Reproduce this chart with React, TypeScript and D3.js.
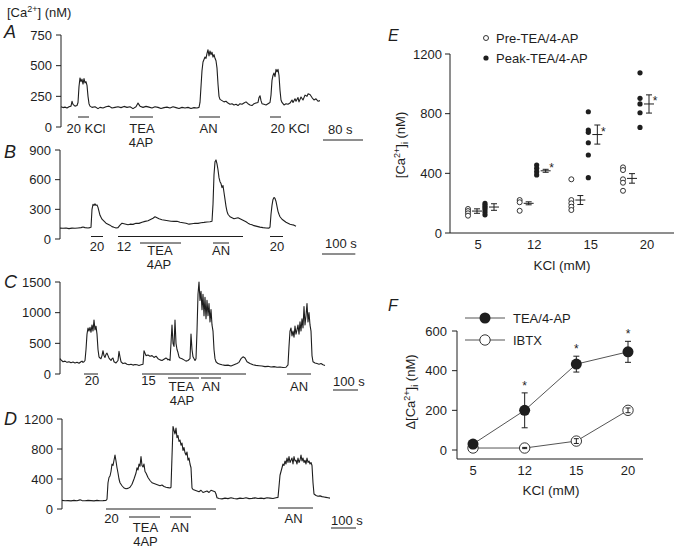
import React from 'react';
import * as d3 from 'd3';

const FONT = 'Liberation Sans, Arial, Helvetica, sans-serif';
const INK = '#1e1e1e';

// ---------- Panel A-D traces: [time (s), [Ca2+] (nM)] ----------
const traceA: [number, number][] = [
  [0,165],[4,158],[8,162],[12,155],[16,165],[20,170],[22,210],[24,185],[28,170],[32,175],[34,200],[36,330],[38,400],[40,370],[42,390],[44,350],[46,395],[48,360],[50,370],[52,340],[54,250],[56,190],[58,170],[62,160],[68,165],[74,150],[78,160],[84,155],[90,165],[96,170],[102,155],[108,160],[114,165],[120,158],[126,168],[132,160],[138,165],[144,150],[150,165],[154,195],[158,170],[164,160],[170,168],[176,162],[182,155],[188,165],[194,160],[200,150],[206,158],[212,162],[218,155],[224,165],[230,158],[236,150],[242,160],[248,155],[254,160],[260,150],[266,158],[272,155],[276,160],[278,200],[280,330],[282,460],[284,530],[286,550],[288,570],[290,560],[292,600],[294,630],[296,580],[298,620],[300,590],[302,610],[304,570],[306,590],[308,560],[310,540],[312,480],[314,350],[316,250],[318,225],[322,215],[326,205],[330,210],[334,195],[338,185],[342,190],[346,180],[350,185],[354,175],[358,190],[362,185],[366,195],[370,205],[374,190],[378,180],[382,175],[386,190],[390,195],[394,200],[396,240],[398,255],[400,215],[402,190],[406,185],[410,180],[414,190],[418,200],[420,260],[422,380],[424,420],[426,440],[428,410],[430,470],[432,450],[434,470],[436,420],[438,300],[440,220],[442,200],[446,180],[450,190],[454,185],[458,195],[462,220],[464,200],[468,230],[470,210],[474,240],[476,205],[480,245],[484,220],[488,260],[492,250],[494,270],[498,265],[502,240],[506,220],[510,230],[514,210],[518,215]
];
const ticksA = [0, 250, 500, 750];
const barsA: [number, number, number][] = [[34,56,0],[138,184,0],[276,318,0],[418,440,0]];
const labelsA: [string, number, number][] = [['20 KCl',50,0],['TEA',162,0],['4AP',160,1],['AN',295,0],['20 KCl',458,0]];

const traceB: [number, number][] = [
  [0,110],[9,108],[18,112],[27,105],[36,110],[45,108],[54,112],[63,115],[69,122],[75,115],[84,112],[90,115],[93,120],[96,300],[99,350],[102,340],[105,355],[108,340],[111,345],[114,320],[117,280],[120,240],[126,200],[132,180],[138,160],[144,150],[150,140],[156,125],[162,118],[168,112],[174,115],[180,140],[186,160],[192,155],[198,150],[204,145],[210,150],[219,148],[228,160],[237,158],[246,170],[255,178],[264,185],[273,200],[279,210],[285,225],[291,215],[297,205],[306,195],[315,190],[324,185],[333,180],[342,178],[351,180],[360,170],[369,165],[378,160],[387,150],[396,155],[405,160],[414,158],[423,165],[432,168],[441,172],[450,175],[456,180],[459,350],[462,650],[465,780],[468,800],[471,760],[474,700],[477,620],[480,580],[483,560],[486,520],[489,540],[492,470],[495,400],[498,330],[501,280],[504,250],[510,225],[516,215],[522,205],[528,210],[534,215],[540,205],[546,195],[552,185],[558,175],[564,160],[570,150],[576,145],[582,135],[588,130],[594,125],[600,120],[609,115],[618,112],[627,110],[630,120],[633,250],[636,340],[639,400],[642,420],[645,410],[648,380],[651,330],[654,280],[657,250],[660,225],[666,200],[672,185],[678,170],[684,160],[690,150],[696,145],[702,140],[708,130]
];
const ticksB = [0, 300, 600, 900];
const barsB: [number, number, number][] = [[93,129,0],[174,549,0],[240,363,1],[459,507,1],[630,669,0]];
const labelsB: [string, number, number][] = [['20',111,0],['12',192,0],['TEA',300,1],['4AP',297,2],['AN',483,1],['20',651,0]];

const traceC: [number, number][] = [
  [0,250],[4,230],[12,200],[20,210],[28,190],[36,200],[44,185],[52,195],[60,180],[68,190],[76,175],[84,200],[88,210],[92,190],[96,200],[100,220],[104,400],[108,650],[112,750],[116,700],[120,760],[124,680],[128,800],[132,700],[136,880],[140,720],[144,780],[148,650],[152,400],[156,280],[160,260],[164,250],[168,300],[172,380],[176,300],[180,270],[184,320],[188,340],[192,300],[196,260],[200,240],[204,220],[208,250],[212,260],[216,200],[224,180],[232,220],[236,370],[240,280],[244,200],[252,170],[260,180],[268,160],[276,150],[284,160],[292,145],[300,155],[308,150],[316,140],[324,150],[332,160],[336,380],[340,340],[344,300],[352,310],[360,290],[368,300],[376,270],[384,290],[392,250],[400,230],[408,220],[416,240],[424,260],[428,250],[432,230],[436,240],[440,220],[444,500],[448,800],[452,500],[456,450],[460,880],[464,500],[468,400],[472,350],[476,280],[480,260],[488,250],[496,230],[504,210],[512,220],[520,250],[524,650],[528,400],[532,280],[540,220],[544,250],[548,700],[552,1300],[556,1500],[560,1200],[564,1350],[568,1050],[572,1300],[576,950],[580,1250],[584,900],[588,1200],[592,950],[596,1150],[600,850],[604,1050],[608,800],[612,700],[616,400],[620,250],[624,200],[632,170],[640,160],[648,150],[660,140],[672,145],[684,130],[696,150],[708,170],[716,190],[724,250],[732,280],[740,260],[748,200],[760,170],[772,150],[784,140],[796,135],[808,130],[820,120],[832,125],[844,115],[856,120],[868,110],[880,115],[892,105],[904,110],[912,150],[916,450],[920,700],[924,750],[928,620],[932,700],[936,600],[940,780],[944,650],[948,720],[952,800],[956,650],[960,850],[964,700],[968,900],[972,750],[976,1100],[980,800],[984,950],[988,1150],[992,850],[996,1000],[1000,800],[1004,700],[1008,300],[1012,200],[1020,180],[1028,170],[1036,160],[1044,170],[1052,150],[1060,140]
];
const ticksC = [0, 500, 1000, 1500];
const barsC: [number, number, number][] = [[96,152,0],[328,744,0],[432,556,1],[564,644,1],[908,1004,0]];
const labelsC: [string, number, number][] = [['20',128,0],['15',354,0],['TEA',486,1],['4AP',488,2],['AN',604,1],['AN',956,1]];

const traceD: [number, number][] = [
  [0,115],[12,110],[24,112],[36,108],[48,115],[60,110],[72,122],[80,112],[92,110],[104,115],[116,112],[128,108],[140,115],[152,110],[164,112],[176,115],[180,130],[184,350],[188,420],[192,440],[196,500],[200,600],[204,580],[208,650],[212,720],[216,640],[220,550],[224,480],[228,400],[232,350],[240,310],[248,280],[256,270],[264,275],[272,290],[280,330],[288,400],[296,480],[300,550],[304,520],[308,600],[312,570],[316,700],[320,580],[324,560],[328,600],[332,500],[336,480],[340,450],[344,420],[352,380],[360,350],[368,340],[376,330],[384,320],[392,310],[400,320],[408,300],[416,290],[424,285],[432,280],[436,290],[440,700],[444,1100],[448,1050],[452,1000],[456,1080],[460,950],[464,980],[468,900],[472,920],[476,850],[480,880],[484,780],[488,820],[492,750],[496,720],[500,760],[504,650],[508,680],[512,600],[516,550],[520,280],[524,260],[532,250],[540,240],[548,230],[556,250],[564,220],[572,230],[580,240],[588,220],[596,250],[604,240],[612,230],[616,200],[620,150],[628,140],[640,135],[652,145],[664,138],[676,150],[688,140],[700,135],[712,145],[724,140],[736,150],[748,138],[760,142],[772,148],[784,140],[796,145],[808,138],[820,150],[832,145],[844,140],[856,150],[864,155],[868,300],[872,450],[876,500],[880,550],[884,600],[888,580],[892,640],[896,600],[900,680],[904,620],[908,700],[912,620],[916,650],[920,680],[924,600],[928,700],[932,640],[936,650],[940,600],[944,680],[948,620],[952,650],[956,720],[960,640],[964,680],[968,620],[972,650],[976,600],[980,680],[984,620],[988,640],[992,600],[996,620],[1000,580],[1004,350],[1008,200],[1016,180],[1024,170],[1032,175],[1040,165],[1048,160],[1056,155],[1064,150],[1072,145]
];
const ticksD = [0, 400, 800, 1200];
const barsD: [number, number, number][] = [[176,616,0],[268,392,1],[432,516,1],[864,1004,2]];
const labelsD: [string, number, number][] = [['20',198,0],['TEA',334,1],['4AP',334,2],['AN',472,1],['AN',926,0]];

// ---------- Panel E ----------
const kclLevels = ['5', '12', '15', '20'];
const ticksE = [0, 400, 800, 1200];
const prePoints = [[161,147,132,116],[221,206,149],[360,221,199,176,154],[440,422,360,337,283]];
const peakPoints = [[198,185,172,158,140,122],[456,434,411,389],[813,690,675,605,523,371],[1074,903,865,806,708]];
const preMean = [147, 199, 221, 366];
const preSem = [15, 10, 30, 32];
const peakMean = [174, 417, 660, 865];
const peakSem = [22, 10, 64, 61];
const peakSig = [false, true, true, true];

// ---------- Panel F ----------
const ticksF = [0, 200, 400, 600];
const teaMean = [30, 200, 433, 495];
const teaSem = [0, 88, 40, 53];
const ibtxMean = [10, 10, 45, 200];
const ibtxSem = [3, 3, 12, 12];
const teaSig = [false, true, true, true];

type Layout = {
  letter: string; letterY: number; axisX: number; xEnd: number; tMax: number;
  y0: number; yTop: number; rowY: number[]; lineY: number[];
  scale: { sec: number; label: string; x: number; y: number; tx: number; ty: number };
};

function TracePanel({ data, ticks, bars, labels, L }: { data: [number, number][]; ticks: number[]; bars: [number, number, number][]; labels: [string, number, number][]; L: Layout }) {
  const x = d3.scaleLinear().domain([0, L.tMax]).range([L.axisX, L.xEnd]);
  const y = d3.scaleLinear().domain([0, ticks[ticks.length - 1]]).range([L.y0, L.yTop]);
  const line = d3.line<[number, number]>().x(d => x(d[0])).y(d => y(d[1]));
  const sbLen = x(L.scale.sec) - x(0);
  return (
    <g>
      <text x={4} y={L.letterY} fontSize={18} fontStyle="italic" fill={INK}>{L.letter}</text>
      <line x1={L.axisX} x2={L.axisX} y1={y(ticks[0])} y2={y(ticks[ticks.length - 1])} stroke={INK} strokeWidth={1} />
      {ticks.map(t => (
        <g key={t}>
          <line x1={L.axisX - 5} x2={L.axisX} y1={y(t)} y2={y(t)} stroke={INK} strokeWidth={1} />
          <text x={L.axisX - 9} y={y(t)} dy="0.35em" textAnchor="end" fontSize={13} fill={INK}>{t}</text>
        </g>
      ))}
      <path d={line(data) || ''} fill="none" stroke={INK} strokeWidth={1.1} strokeLinejoin="round" />
      {bars.map((b, i) => (
        <line key={i} x1={x(b[0])} x2={x(b[1])} y1={L.rowY[b[2]]} y2={L.rowY[b[2]]} stroke={INK} strokeWidth={1} />
      ))}
      {labels.map((l, i) => (
        <text key={i} x={x(l[1])} y={L.lineY[l[2]]} textAnchor="middle" fontSize={13} fill={INK}>{l[0]}</text>
      ))}
      <text x={L.scale.tx} y={L.scale.ty} fontSize={13} fill={INK}>{L.scale.label}</text>
      <line x1={L.scale.x} x2={L.scale.x + sbLen} y1={L.scale.y} y2={L.scale.y} stroke={INK} strokeWidth={1} />
    </g>
  );
}

const layoutA: Layout = { letter: 'A', letterY: 38, axisX: 61, xEnd: 320, tMax: 518, y0: 127, yTop: 35, rowY: [117], lineY: [133, 147], scale: { sec: 80, label: '80 s', x: 323, y: 140, tx: 328, ty: 134 } };
const layoutB: Layout = { letter: 'B', letterY: 158, axisX: 60, xEnd: 296, tMax: 708, y0: 239, yTop: 150, rowY: [236.5, 243], lineY: [251, 255, 269], scale: { sec: 100, label: '100 s', x: 322, y: 254, tx: 325, ty: 248 } };
const layoutC: Layout = { letter: 'C', letterY: 288, axisX: 60, xEnd: 325, tMax: 1060, y0: 374, yTop: 282, rowY: [374, 378], lineY: [385, 391, 405], scale: { sec: 100, label: '100 s', x: 333, y: 390, tx: 333, ty: 386 } };
const layoutD: Layout = { letter: 'D', letterY: 425, axisX: 62, xEnd: 330, tMax: 1072, y0: 509, yTop: 419, rowY: [509, 517, 508], lineY: [523, 532, 546], scale: { sec: 100, label: '100 s', x: 331, y: 528, tx: 331, ty: 525 } };

function ErrBar({ x, yTop, yBot, yMid, cap, mid }: { x: number; yTop: number; yBot: number; yMid?: number; cap: number; mid?: number }) {
  return (
    <g stroke={INK} strokeWidth={1}>
      <line x1={x} x2={x} y1={yTop} y2={yBot} />
      <line x1={x - cap} x2={x + cap} y1={yTop} y2={yTop} />
      <line x1={x - cap} x2={x + cap} y1={yBot} y2={yBot} />
      {yMid !== undefined && mid ? <line x1={x - mid} x2={x + mid} y1={yMid} y2={yMid} /> : null}
    </g>
  );
}

function PanelE() {
  const y = d3.scaleLinear().domain([0, 1200]).range([233, 54]);
  const xLab = d3.scalePoint<string>().domain(kclLevels).range([478, 647]);
  const xDot = d3.scalePoint<string>().domain(kclLevels).range([468, 623]);
  const axisX = 450;
  return (
    <g>
      <text x={388} y={41} fontSize={16} fontStyle="italic" fill={INK}>E</text>
      <circle cx={486} cy={38} r={2.5} fill="#fff" stroke={INK} strokeWidth={0.9} />
      <text x={496} y={43} fontSize={13} fill={INK}>Pre-TEA/4-AP</text>
      <circle cx={486} cy={58} r={2.6} fill={INK} />
      <text x={496} y={63} fontSize={13} fill={INK}>Peak-TEA/4-AP</text>
      <line x1={axisX} x2={axisX} y1={y(1200)} y2={y(0)} stroke={INK} />
      <line x1={axisX} x2={674} y1={y(0)} y2={y(0)} stroke={INK} />
      {ticksE.map(t => (
        <g key={t}>
          <line x1={axisX - 5} x2={axisX} y1={y(t)} y2={y(t)} stroke={INK} />
          <text x={axisX - 8} y={y(t)} dy="0.35em" textAnchor="end" fontSize={13} fill={INK}>{t}</text>
        </g>
      ))}
      {kclLevels.map(k => (
        <text key={k} x={xLab(k)} y={249} textAnchor="middle" fontSize={13} fill={INK}>{k}</text>
      ))}
      <text x={562} y={270} textAnchor="middle" fontSize={13.5} fill={INK}>KCl (mM)</text>
      <text transform="translate(405,145) rotate(-90)" textAnchor="middle" fontSize={13} fill={INK}>
        [Ca<tspan dy={-5} fontSize={9}>2+</tspan><tspan dy={5}>]</tspan><tspan dy={3} fontSize={9}>i</tspan><tspan dy={-3}> (nM)</tspan>
      </text>
      {kclLevels.map((k, i) => {
        const xo = xDot(k)!;
        const xf = xo + 17;
        return (
          <g key={k}>
            {prePoints[i].map((v, j) => (
              <circle key={'p' + j} cx={xo} cy={y(v)} r={2.5} fill="#fff" stroke={INK} strokeWidth={0.9} />
            ))}
            <ErrBar x={xo + 9} yTop={y(preMean[i] + preSem[i])} yBot={y(preMean[i] - preSem[i])} yMid={y(preMean[i])} cap={3} mid={5} />
            {peakPoints[i].map((v, j) => (
              <circle key={'k' + j} cx={xf} cy={y(v)} r={2.6} fill={INK} />
            ))}
            <ErrBar x={xf + 9} yTop={y(peakMean[i] + peakSem[i])} yBot={y(peakMean[i] - peakSem[i])} yMid={y(peakMean[i])} cap={3} mid={5} />
            {peakSig[i] ? <text x={xf + 15} y={y(peakMean[i]) + 1} textAnchor="middle" fontSize={12} fill={INK}>*</text> : null}
          </g>
        );
      })}
    </g>
  );
}

function PanelF() {
  const y = d3.scaleLinear().domain([0, 600]).range([450, 331]);
  const x = d3.scalePoint<string>().domain(kclLevels).range([473, 628]);
  const axisX = 457;
  const line = d3.line<number>().x((_, i) => x(kclLevels[i])!).y(d => y(d));
  return (
    <g>
      <text x={388} y={311} fontSize={16} fontStyle="italic" fill={INK}>F</text>
      <line x1={465} x2={505} y1={318} y2={318} stroke="#555" />
      <circle cx={485} cy={318} r={5.5} fill={INK} />
      <text x={513} y={322.5} fontSize={13} fill={INK}>TEA/4-AP</text>
      <line x1={465} x2={505} y1={340} y2={340} stroke="#555" />
      <circle cx={485} cy={340} r={5.2} fill="#fff" stroke={INK} strokeWidth={0.9} />
      <text x={513} y={344.5} fontSize={13} fill={INK}>IBTX</text>
      <line x1={axisX} x2={axisX} y1={y(600)} y2={459} stroke={INK} />
      <line x1={axisX} x2={643} y1={459} y2={459} stroke={INK} />
      {ticksF.map(t => (
        <g key={t}>
          <line x1={axisX - 5} x2={axisX} y1={y(t)} y2={y(t)} stroke={INK} />
          <text x={axisX - 10} y={y(t)} dy="0.35em" textAnchor="end" fontSize={13} fill={INK}>{t}</text>
        </g>
      ))}
      {kclLevels.map(k => (
        <text key={k} x={x(k)} y={475} textAnchor="middle" fontSize={13} fill={INK}>{k}</text>
      ))}
      <text x={551} y={495} textAnchor="middle" fontSize={13.5} fill={INK}>KCl (mM)</text>
      <text transform="translate(415,392) rotate(-90)" textAnchor="middle" fontSize={13} fill={INK}>
        Δ[Ca<tspan dy={-5} fontSize={9}>2+</tspan><tspan dy={5}>]</tspan><tspan dy={3} fontSize={9}>i</tspan><tspan dy={-3}> (nM)</tspan>
      </text>
      <path d={line(ibtxMean) || ''} fill="none" stroke="#555" strokeWidth={1} />
      {ibtxMean.map((m, i) => (
        <g key={'i' + i}>
          <circle cx={x(kclLevels[i])} cy={y(m)} r={5.2} fill="#fff" stroke={INK} strokeWidth={0.9} />
          <ErrBar x={x(kclLevels[i])!} yTop={y(m + ibtxSem[i])} yBot={y(m - ibtxSem[i])} cap={2.5} />
        </g>
      ))}
      <path d={line(teaMean) || ''} fill="none" stroke="#555" strokeWidth={1} />
      {teaMean.map((m, i) => (
        <g key={'t' + i}>
          {teaSem[i] > 0 ? <ErrBar x={x(kclLevels[i])!} yTop={y(m + teaSem[i])} yBot={y(m - teaSem[i])} cap={3} /> : null}
          <circle cx={x(kclLevels[i])} cy={y(m)} r={5.5} fill={INK} />
          {teaSig[i] ? <text x={x(kclLevels[i])} y={y(m + teaSem[i]) - 3} textAnchor="middle" fontSize={12} fill={INK}>*</text> : null}
        </g>
      ))}
    </g>
  );
}

export default function App() {
  return (
    <svg width={677} height={549} viewBox="0 0 677 549" style={{ position: 'absolute', left: 0, top: 0, background: '#fff' }} fontFamily={FONT}>
      <rect x={0} y={0} width={677} height={549} fill="#fff" />
      <text x={7} y={17} fontSize={13} fill={INK}>
        [Ca<tspan dy={-5} fontSize={9}>2+</tspan><tspan dy={5}>] (nM)</tspan>
      </text>
      <TracePanel data={traceA} ticks={ticksA} bars={barsA} labels={labelsA} L={layoutA} />
      <TracePanel data={traceB} ticks={ticksB} bars={barsB} labels={labelsB} L={layoutB} />
      <TracePanel data={traceC} ticks={ticksC} bars={barsC} labels={labelsC} L={layoutC} />
      <TracePanel data={traceD} ticks={ticksD} bars={barsD} labels={labelsD} L={layoutD} />
      <PanelE />
      <PanelF />
    </svg>
  );
}
